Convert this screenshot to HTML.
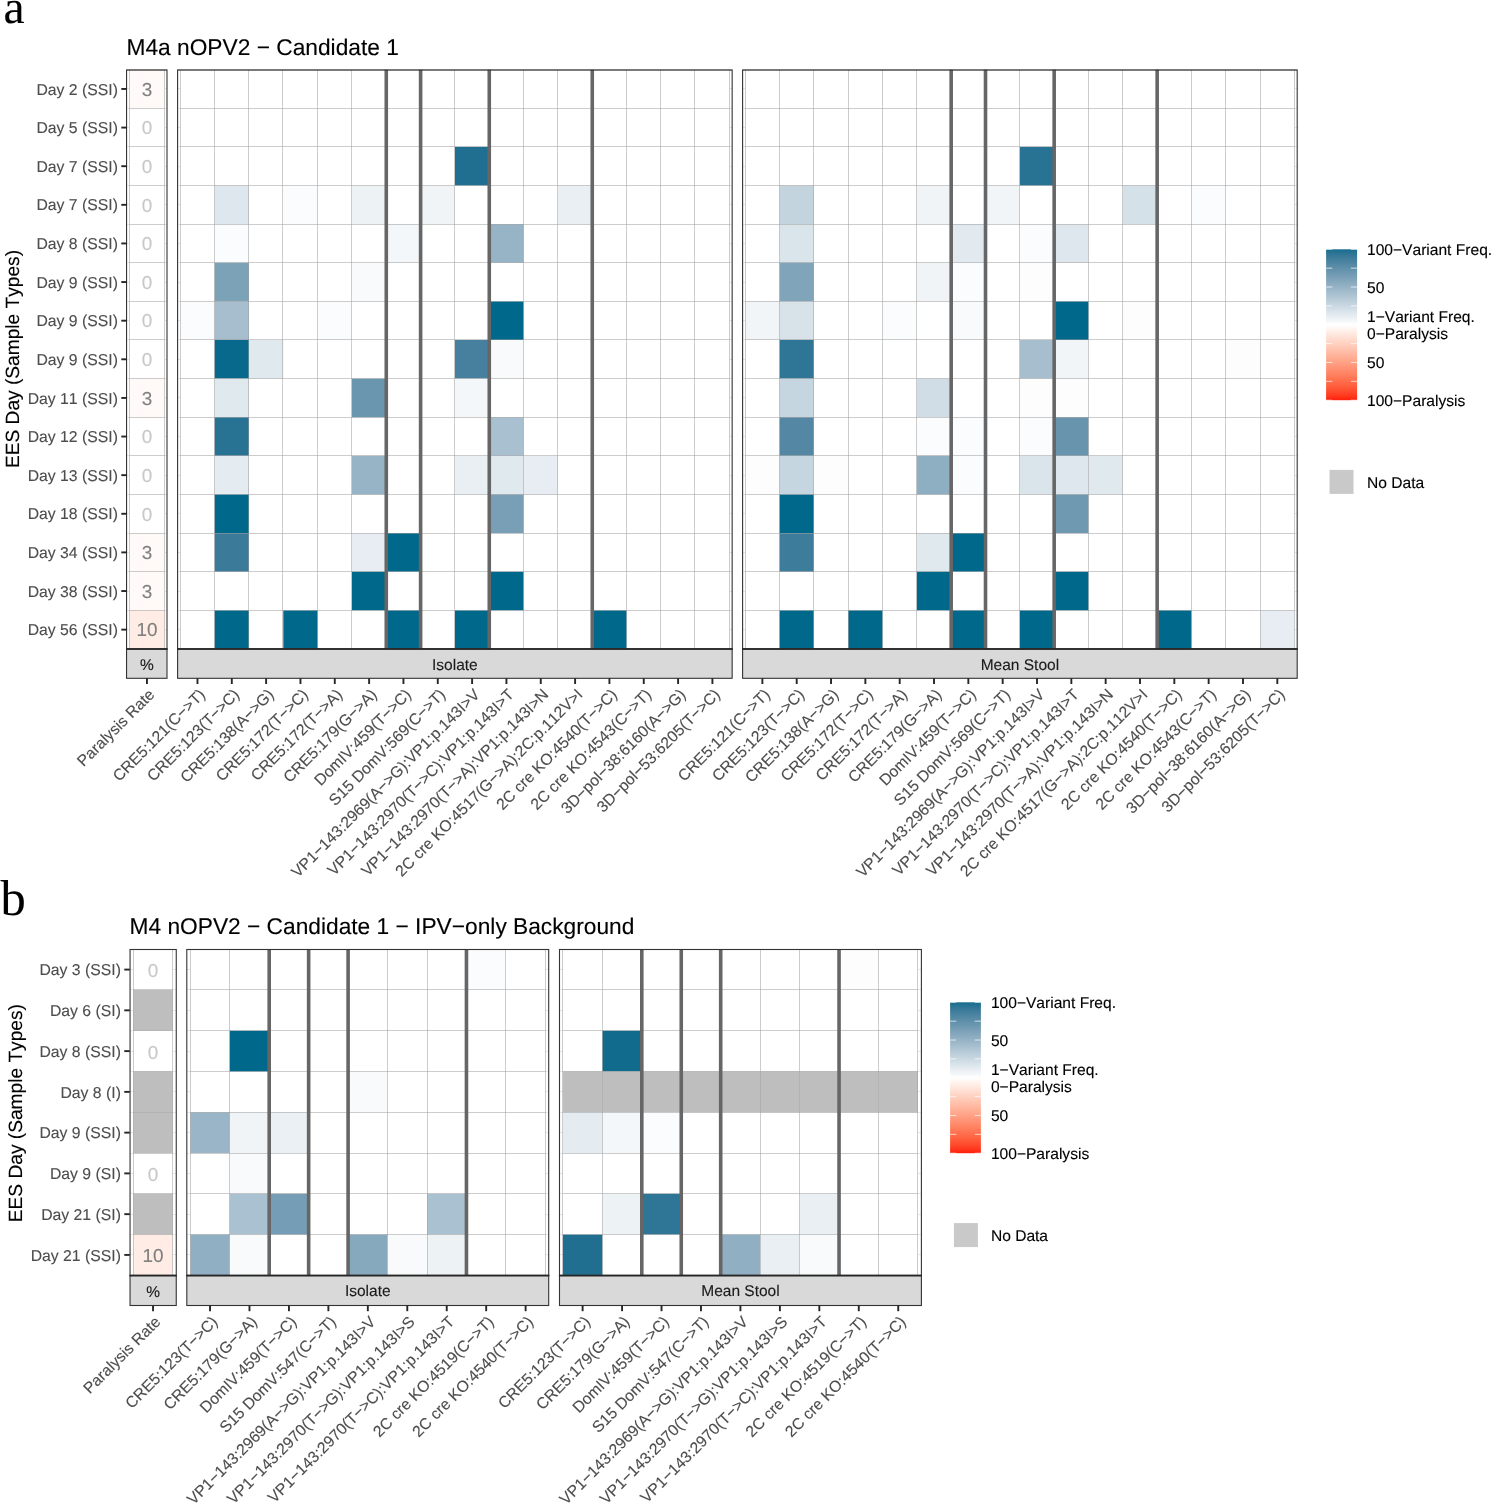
<!DOCTYPE html>
<html lang="en"><head><meta charset="utf-8"><title>nOPV2 Candidate 1 variant heatmaps</title>
<style>html,body{margin:0;padding:0;background:#fff}svg{display:block}text{font-family:'Liberation Sans', Arial, Helvetica, sans-serif;font-kerning:none}</style></head><body>
<svg width="1491" height="1503" viewBox="0 0 1491 1503" text-rendering="geometricPrecision">
<rect width="1491" height="1503" fill="#fff"/>
<text x="3.5" y="23.0" font-size="47.5" fill="#000" style="font-family:'Liberation Serif', 'Times New Roman', serif" stroke="#000" stroke-width="0.12">a</text>
<text x="126.5" y="54.6" font-size="22.74" fill="#000" stroke="#000" stroke-width="0.12">M4a nOPV2 − Candidate 1</text>
<rect x="126.55" y="70" width="40.45" height="578.95" fill="#fff"/>
<line x1="126.55" x2="167" y1="88.5" y2="88.5" stroke="#e6e6e6" stroke-width="1"/>
<line x1="126.55" x2="167" y1="127.5" y2="127.5" stroke="#e6e6e6" stroke-width="1"/>
<line x1="126.55" x2="167" y1="166.5" y2="166.5" stroke="#e6e6e6" stroke-width="1"/>
<line x1="126.55" x2="167" y1="204.5" y2="204.5" stroke="#e6e6e6" stroke-width="1"/>
<line x1="126.55" x2="167" y1="243.5" y2="243.5" stroke="#e6e6e6" stroke-width="1"/>
<line x1="126.55" x2="167" y1="282.5" y2="282.5" stroke="#e6e6e6" stroke-width="1"/>
<line x1="126.55" x2="167" y1="320.5" y2="320.5" stroke="#e6e6e6" stroke-width="1"/>
<line x1="126.55" x2="167" y1="359.5" y2="359.5" stroke="#e6e6e6" stroke-width="1"/>
<line x1="126.55" x2="167" y1="397.5" y2="397.5" stroke="#e6e6e6" stroke-width="1"/>
<line x1="126.55" x2="167" y1="436.5" y2="436.5" stroke="#e6e6e6" stroke-width="1"/>
<line x1="126.55" x2="167" y1="475.5" y2="475.5" stroke="#e6e6e6" stroke-width="1"/>
<line x1="126.55" x2="167" y1="513.5" y2="513.5" stroke="#e6e6e6" stroke-width="1"/>
<line x1="126.55" x2="167" y1="552.5" y2="552.5" stroke="#e6e6e6" stroke-width="1"/>
<line x1="126.55" x2="167" y1="591.5" y2="591.5" stroke="#e6e6e6" stroke-width="1"/>
<line x1="126.55" x2="167" y1="629.5" y2="629.5" stroke="#e6e6e6" stroke-width="1"/>
<line x1="126.55" x2="167" y1="108.5" y2="108.5" stroke="#e8e8e8" stroke-width="1"/>
<line x1="126.55" x2="167" y1="146.5" y2="146.5" stroke="#e8e8e8" stroke-width="1"/>
<line x1="126.55" x2="167" y1="185.5" y2="185.5" stroke="#e8e8e8" stroke-width="1"/>
<line x1="126.55" x2="167" y1="224.5" y2="224.5" stroke="#e8e8e8" stroke-width="1"/>
<line x1="126.55" x2="167" y1="262.5" y2="262.5" stroke="#e8e8e8" stroke-width="1"/>
<line x1="126.55" x2="167" y1="301.5" y2="301.5" stroke="#e8e8e8" stroke-width="1"/>
<line x1="126.55" x2="167" y1="339.5" y2="339.5" stroke="#e8e8e8" stroke-width="1"/>
<line x1="126.55" x2="167" y1="378.5" y2="378.5" stroke="#e8e8e8" stroke-width="1"/>
<line x1="126.55" x2="167" y1="417.5" y2="417.5" stroke="#e8e8e8" stroke-width="1"/>
<line x1="126.55" x2="167" y1="455.5" y2="455.5" stroke="#e8e8e8" stroke-width="1"/>
<line x1="126.55" x2="167" y1="494.5" y2="494.5" stroke="#e8e8e8" stroke-width="1"/>
<line x1="126.55" x2="167" y1="533.5" y2="533.5" stroke="#e8e8e8" stroke-width="1"/>
<line x1="126.55" x2="167" y1="571.5" y2="571.5" stroke="#e8e8e8" stroke-width="1"/>
<line x1="126.55" x2="167" y1="610.5" y2="610.5" stroke="#e8e8e8" stroke-width="1"/>
<rect x="129.2" y="69.65" width="35.6" height="579.3" fill="#fff"/>
<rect x="129.2" y="69.65" width="35.6" height="38.62" fill="#fff9f7"/>
<rect x="129.2" y="378.61" width="35.6" height="38.62" fill="#fff9f7"/>
<rect x="129.2" y="533.09" width="35.6" height="38.62" fill="#fff9f7"/>
<rect x="129.2" y="571.71" width="35.6" height="38.62" fill="#fff9f7"/>
<rect x="129.2" y="610.33" width="35.6" height="38.62" fill="#ffece5"/>
<path d="M129.5 69.65V648.95M164.5 69.65V648.95M129.2 108.5H164.8M129.2 146.5H164.8M129.2 185.5H164.8M129.2 224.5H164.8M129.2 262.5H164.8M129.2 301.5H164.8M129.2 339.5H164.8M129.2 378.5H164.8M129.2 417.5H164.8M129.2 455.5H164.8M129.2 494.5H164.8M129.2 533.5H164.8M129.2 571.5H164.8M129.2 610.5H164.8" fill="none" stroke="#999999" stroke-width="1" stroke-opacity="0.5"/>
<text x="147" y="95.73" font-size="18.9" fill="#808080" text-anchor="middle" stroke="#808080" stroke-width="0.12">3</text>
<text x="147" y="134.35" font-size="18.9" fill="#c8c8c8" text-anchor="middle" stroke="#c8c8c8" stroke-width="0.12">0</text>
<text x="147" y="172.97" font-size="18.9" fill="#c8c8c8" text-anchor="middle" stroke="#c8c8c8" stroke-width="0.12">0</text>
<text x="147" y="211.59" font-size="18.9" fill="#c8c8c8" text-anchor="middle" stroke="#c8c8c8" stroke-width="0.12">0</text>
<text x="147" y="250.21" font-size="18.9" fill="#c8c8c8" text-anchor="middle" stroke="#c8c8c8" stroke-width="0.12">0</text>
<text x="147" y="288.83" font-size="18.9" fill="#c8c8c8" text-anchor="middle" stroke="#c8c8c8" stroke-width="0.12">0</text>
<text x="147" y="327.45" font-size="18.9" fill="#c8c8c8" text-anchor="middle" stroke="#c8c8c8" stroke-width="0.12">0</text>
<text x="147" y="366.07" font-size="18.9" fill="#c8c8c8" text-anchor="middle" stroke="#c8c8c8" stroke-width="0.12">0</text>
<text x="147" y="404.69" font-size="18.9" fill="#808080" text-anchor="middle" stroke="#808080" stroke-width="0.12">3</text>
<text x="147" y="443.31" font-size="18.9" fill="#c8c8c8" text-anchor="middle" stroke="#c8c8c8" stroke-width="0.12">0</text>
<text x="147" y="481.93" font-size="18.9" fill="#c8c8c8" text-anchor="middle" stroke="#c8c8c8" stroke-width="0.12">0</text>
<text x="147" y="520.55" font-size="18.9" fill="#c8c8c8" text-anchor="middle" stroke="#c8c8c8" stroke-width="0.12">0</text>
<text x="147" y="559.17" font-size="18.9" fill="#808080" text-anchor="middle" stroke="#808080" stroke-width="0.12">3</text>
<text x="147" y="597.79" font-size="18.9" fill="#808080" text-anchor="middle" stroke="#808080" stroke-width="0.12">3</text>
<text x="147" y="636.41" font-size="18.9" fill="#808080" text-anchor="middle" stroke="#808080" stroke-width="0.12">10</text>
<rect x="126.55" y="648.95" width="40.45" height="29.35" fill="#d9d9d9" stroke="#333333" stroke-width="1.1"/>
<text x="146.78" y="669.57" font-size="15.5" fill="#1a1a1a" text-anchor="middle" stroke="#1a1a1a" stroke-width="0.12">%</text>
<rect x="126.55" y="70" width="40.45" height="578.95" fill="none" stroke="#333333" stroke-width="1.1"/>
<line x1="126.55" x2="167" y1="70" y2="70" stroke="#333" stroke-opacity=".45" stroke-width="1.1"/>
<line x1="126" x2="167.55" y1="648.95" y2="648.95" stroke="#262626" stroke-width="1.6"/>
<line x1="146.95" x2="146.95" y1="678.3" y2="684" stroke="#262626" stroke-width="1.9"/>
<text transform="translate(155.45 695.5) rotate(-45)" font-size="15.78" fill="#4d4d4d" text-anchor="end" stroke="#4d4d4d" stroke-width="0.12">Paralysis Rate</text>
<line x1="121.3" x2="126.8" y1="88.96" y2="88.96" stroke="#262626" stroke-width="1.9"/>
<text x="117.9" y="94.61" font-size="15.78" fill="#4d4d4d" text-anchor="end" stroke="#4d4d4d" stroke-width="0.12">Day 2 (SSI)</text>
<line x1="121.3" x2="126.8" y1="127.58" y2="127.58" stroke="#262626" stroke-width="1.9"/>
<text x="117.9" y="133.23" font-size="15.78" fill="#4d4d4d" text-anchor="end" stroke="#4d4d4d" stroke-width="0.12">Day 5 (SSI)</text>
<line x1="121.3" x2="126.8" y1="166.2" y2="166.2" stroke="#262626" stroke-width="1.9"/>
<text x="117.9" y="171.85" font-size="15.78" fill="#4d4d4d" text-anchor="end" stroke="#4d4d4d" stroke-width="0.12">Day 7 (SSI)</text>
<line x1="121.3" x2="126.8" y1="204.82" y2="204.82" stroke="#262626" stroke-width="1.9"/>
<text x="117.9" y="210.47" font-size="15.78" fill="#4d4d4d" text-anchor="end" stroke="#4d4d4d" stroke-width="0.12">Day 7 (SSI)</text>
<line x1="121.3" x2="126.8" y1="243.44" y2="243.44" stroke="#262626" stroke-width="1.9"/>
<text x="117.9" y="249.09" font-size="15.78" fill="#4d4d4d" text-anchor="end" stroke="#4d4d4d" stroke-width="0.12">Day 8 (SSI)</text>
<line x1="121.3" x2="126.8" y1="282.06" y2="282.06" stroke="#262626" stroke-width="1.9"/>
<text x="117.9" y="287.71" font-size="15.78" fill="#4d4d4d" text-anchor="end" stroke="#4d4d4d" stroke-width="0.12">Day 9 (SSI)</text>
<line x1="121.3" x2="126.8" y1="320.68" y2="320.68" stroke="#262626" stroke-width="1.9"/>
<text x="117.9" y="326.33" font-size="15.78" fill="#4d4d4d" text-anchor="end" stroke="#4d4d4d" stroke-width="0.12">Day 9 (SSI)</text>
<line x1="121.3" x2="126.8" y1="359.3" y2="359.3" stroke="#262626" stroke-width="1.9"/>
<text x="117.9" y="364.95" font-size="15.78" fill="#4d4d4d" text-anchor="end" stroke="#4d4d4d" stroke-width="0.12">Day 9 (SSI)</text>
<line x1="121.3" x2="126.8" y1="397.92" y2="397.92" stroke="#262626" stroke-width="1.9"/>
<text x="117.9" y="403.57" font-size="15.78" fill="#4d4d4d" text-anchor="end" stroke="#4d4d4d" stroke-width="0.12">Day 11 (SSI)</text>
<line x1="121.3" x2="126.8" y1="436.54" y2="436.54" stroke="#262626" stroke-width="1.9"/>
<text x="117.9" y="442.19" font-size="15.78" fill="#4d4d4d" text-anchor="end" stroke="#4d4d4d" stroke-width="0.12">Day 12 (SSI)</text>
<line x1="121.3" x2="126.8" y1="475.16" y2="475.16" stroke="#262626" stroke-width="1.9"/>
<text x="117.9" y="480.81" font-size="15.78" fill="#4d4d4d" text-anchor="end" stroke="#4d4d4d" stroke-width="0.12">Day 13 (SSI)</text>
<line x1="121.3" x2="126.8" y1="513.78" y2="513.78" stroke="#262626" stroke-width="1.9"/>
<text x="117.9" y="519.43" font-size="15.78" fill="#4d4d4d" text-anchor="end" stroke="#4d4d4d" stroke-width="0.12">Day 18 (SSI)</text>
<line x1="121.3" x2="126.8" y1="552.4" y2="552.4" stroke="#262626" stroke-width="1.9"/>
<text x="117.9" y="558.05" font-size="15.78" fill="#4d4d4d" text-anchor="end" stroke="#4d4d4d" stroke-width="0.12">Day 34 (SSI)</text>
<line x1="121.3" x2="126.8" y1="591.02" y2="591.02" stroke="#262626" stroke-width="1.9"/>
<text x="117.9" y="596.67" font-size="15.78" fill="#4d4d4d" text-anchor="end" stroke="#4d4d4d" stroke-width="0.12">Day 38 (SSI)</text>
<line x1="121.3" x2="126.8" y1="629.64" y2="629.64" stroke="#262626" stroke-width="1.9"/>
<text x="117.9" y="635.29" font-size="15.78" fill="#4d4d4d" text-anchor="end" stroke="#4d4d4d" stroke-width="0.12">Day 56 (SSI)</text>
<rect x="177.6" y="70" width="554.55" height="578.95" fill="#fff"/>
<line x1="177.6" x2="732.15" y1="88.5" y2="88.5" stroke="#e6e6e6" stroke-width="1"/>
<line x1="177.6" x2="732.15" y1="127.5" y2="127.5" stroke="#e6e6e6" stroke-width="1"/>
<line x1="177.6" x2="732.15" y1="166.5" y2="166.5" stroke="#e6e6e6" stroke-width="1"/>
<line x1="177.6" x2="732.15" y1="204.5" y2="204.5" stroke="#e6e6e6" stroke-width="1"/>
<line x1="177.6" x2="732.15" y1="243.5" y2="243.5" stroke="#e6e6e6" stroke-width="1"/>
<line x1="177.6" x2="732.15" y1="282.5" y2="282.5" stroke="#e6e6e6" stroke-width="1"/>
<line x1="177.6" x2="732.15" y1="320.5" y2="320.5" stroke="#e6e6e6" stroke-width="1"/>
<line x1="177.6" x2="732.15" y1="359.5" y2="359.5" stroke="#e6e6e6" stroke-width="1"/>
<line x1="177.6" x2="732.15" y1="397.5" y2="397.5" stroke="#e6e6e6" stroke-width="1"/>
<line x1="177.6" x2="732.15" y1="436.5" y2="436.5" stroke="#e6e6e6" stroke-width="1"/>
<line x1="177.6" x2="732.15" y1="475.5" y2="475.5" stroke="#e6e6e6" stroke-width="1"/>
<line x1="177.6" x2="732.15" y1="513.5" y2="513.5" stroke="#e6e6e6" stroke-width="1"/>
<line x1="177.6" x2="732.15" y1="552.5" y2="552.5" stroke="#e6e6e6" stroke-width="1"/>
<line x1="177.6" x2="732.15" y1="591.5" y2="591.5" stroke="#e6e6e6" stroke-width="1"/>
<line x1="177.6" x2="732.15" y1="629.5" y2="629.5" stroke="#e6e6e6" stroke-width="1"/>
<line x1="177.6" x2="732.15" y1="108.5" y2="108.5" stroke="#e8e8e8" stroke-width="1"/>
<line x1="177.6" x2="732.15" y1="146.5" y2="146.5" stroke="#e8e8e8" stroke-width="1"/>
<line x1="177.6" x2="732.15" y1="185.5" y2="185.5" stroke="#e8e8e8" stroke-width="1"/>
<line x1="177.6" x2="732.15" y1="224.5" y2="224.5" stroke="#e8e8e8" stroke-width="1"/>
<line x1="177.6" x2="732.15" y1="262.5" y2="262.5" stroke="#e8e8e8" stroke-width="1"/>
<line x1="177.6" x2="732.15" y1="301.5" y2="301.5" stroke="#e8e8e8" stroke-width="1"/>
<line x1="177.6" x2="732.15" y1="339.5" y2="339.5" stroke="#e8e8e8" stroke-width="1"/>
<line x1="177.6" x2="732.15" y1="378.5" y2="378.5" stroke="#e8e8e8" stroke-width="1"/>
<line x1="177.6" x2="732.15" y1="417.5" y2="417.5" stroke="#e8e8e8" stroke-width="1"/>
<line x1="177.6" x2="732.15" y1="455.5" y2="455.5" stroke="#e8e8e8" stroke-width="1"/>
<line x1="177.6" x2="732.15" y1="494.5" y2="494.5" stroke="#e8e8e8" stroke-width="1"/>
<line x1="177.6" x2="732.15" y1="533.5" y2="533.5" stroke="#e8e8e8" stroke-width="1"/>
<line x1="177.6" x2="732.15" y1="571.5" y2="571.5" stroke="#e8e8e8" stroke-width="1"/>
<line x1="177.6" x2="732.15" y1="610.5" y2="610.5" stroke="#e8e8e8" stroke-width="1"/>
<rect x="180.3" y="69.65" width="549.28" height="579.3" fill="#fff"/>
<rect x="454.94" y="146.89" width="34.33" height="38.62" fill="#206f91"/>
<rect x="214.63" y="185.51" width="34.33" height="38.62" fill="#dee7ed"/>
<rect x="283.29" y="185.51" width="34.33" height="38.62" fill="#fbfcfd"/>
<rect x="351.95" y="185.51" width="34.33" height="38.62" fill="#edf2f5"/>
<rect x="420.61" y="185.51" width="34.33" height="38.62" fill="#f0f4f7"/>
<rect x="557.93" y="185.51" width="34.33" height="38.62" fill="#e9eff3"/>
<rect x="214.63" y="224.13" width="34.33" height="38.62" fill="#fbfcfd"/>
<rect x="386.28" y="224.13" width="34.33" height="38.62" fill="#f4f7f9"/>
<rect x="489.27" y="224.13" width="34.33" height="38.62" fill="#96b4c6"/>
<rect x="214.63" y="262.75" width="34.33" height="38.62" fill="#7ca2b8"/>
<rect x="351.95" y="262.75" width="34.33" height="38.62" fill="#f8fafb"/>
<rect x="180.3" y="301.37" width="34.33" height="38.62" fill="#fbfcfd"/>
<rect x="214.63" y="301.37" width="34.33" height="38.62" fill="#a6bece"/>
<rect x="317.62" y="301.37" width="34.33" height="38.62" fill="#fbfcfd"/>
<rect x="489.27" y="301.37" width="34.33" height="38.62" fill="#00688b"/>
<rect x="214.63" y="339.99" width="34.33" height="38.62" fill="#09698c"/>
<rect x="248.96" y="339.99" width="34.33" height="38.62" fill="#e0e9ee"/>
<rect x="454.94" y="339.99" width="34.33" height="38.62" fill="#46809e"/>
<rect x="489.27" y="339.99" width="34.33" height="38.62" fill="#f8fafb"/>
<rect x="214.63" y="378.61" width="34.33" height="38.62" fill="#e0e9ee"/>
<rect x="351.95" y="378.61" width="34.33" height="38.62" fill="#6a96af"/>
<rect x="454.94" y="378.61" width="34.33" height="38.62" fill="#f4f7f9"/>
<rect x="214.63" y="417.23" width="34.33" height="38.62" fill="#287293"/>
<rect x="489.27" y="417.23" width="34.33" height="38.62" fill="#a8c0cf"/>
<rect x="214.63" y="455.85" width="34.33" height="38.62" fill="#e5ecf1"/>
<rect x="351.95" y="455.85" width="34.33" height="38.62" fill="#96b4c6"/>
<rect x="454.94" y="455.85" width="34.33" height="38.62" fill="#e9eff3"/>
<rect x="489.27" y="455.85" width="34.33" height="38.62" fill="#e0e9ee"/>
<rect x="523.6" y="455.85" width="34.33" height="38.62" fill="#e7edf2"/>
<rect x="214.63" y="494.47" width="34.33" height="38.62" fill="#00688b"/>
<rect x="489.27" y="494.47" width="34.33" height="38.62" fill="#789fb6"/>
<rect x="214.63" y="533.09" width="34.33" height="38.62" fill="#3b7a99"/>
<rect x="351.95" y="533.09" width="34.33" height="38.62" fill="#e7edf2"/>
<rect x="386.28" y="533.09" width="34.33" height="38.62" fill="#00688b"/>
<rect x="351.95" y="571.71" width="34.33" height="38.62" fill="#00688b"/>
<rect x="489.27" y="571.71" width="34.33" height="38.62" fill="#00688b"/>
<rect x="214.63" y="610.33" width="34.33" height="38.62" fill="#00688b"/>
<rect x="283.29" y="610.33" width="34.33" height="38.62" fill="#00688b"/>
<rect x="386.28" y="610.33" width="34.33" height="38.62" fill="#00688b"/>
<rect x="454.94" y="610.33" width="34.33" height="38.62" fill="#00688b"/>
<rect x="592.26" y="610.33" width="34.33" height="38.62" fill="#00688b"/>
<path d="M180.5 69.65V648.95M214.5 69.65V648.95M248.5 69.65V648.95M282.5 69.65V648.95M317.5 69.65V648.95M351.5 69.65V648.95M385.5 69.65V648.95M420.5 69.65V648.95M454.5 69.65V648.95M488.5 69.65V648.95M523.5 69.65V648.95M557.5 69.65V648.95M591.5 69.65V648.95M626.5 69.65V648.95M660.5 69.65V648.95M694.5 69.65V648.95M729.5 69.65V648.95M180.3 108.5H729.58M180.3 146.5H729.58M180.3 185.5H729.58M180.3 224.5H729.58M180.3 262.5H729.58M180.3 301.5H729.58M180.3 339.5H729.58M180.3 378.5H729.58M180.3 417.5H729.58M180.3 455.5H729.58M180.3 494.5H729.58M180.3 533.5H729.58M180.3 571.5H729.58M180.3 610.5H729.58" fill="none" stroke="#999999" stroke-width="1" stroke-opacity="0.5"/>
<line x1="386.28" x2="386.28" y1="69.65" y2="648.95" stroke="#666666" stroke-width="3.6"/>
<line x1="420.61" x2="420.61" y1="69.65" y2="648.95" stroke="#666666" stroke-width="3.6"/>
<line x1="489.27" x2="489.27" y1="69.65" y2="648.95" stroke="#666666" stroke-width="3.6"/>
<line x1="592.26" x2="592.26" y1="69.65" y2="648.95" stroke="#666666" stroke-width="3.6"/>
<rect x="177.6" y="648.95" width="554.55" height="29.35" fill="#d9d9d9" stroke="#333333" stroke-width="1.1"/>
<text x="454.88" y="669.57" font-size="15.5" fill="#1a1a1a" text-anchor="middle" stroke="#1a1a1a" stroke-width="0.12">Isolate</text>
<rect x="177.6" y="70" width="554.55" height="578.95" fill="none" stroke="#333333" stroke-width="1.1"/>
<line x1="177.6" x2="732.15" y1="70" y2="70" stroke="#333" stroke-opacity=".45" stroke-width="1.1"/>
<line x1="177.05" x2="732.7" y1="648.95" y2="648.95" stroke="#262626" stroke-width="1.6"/>
<line x1="197.47" x2="197.47" y1="678.3" y2="684" stroke="#262626" stroke-width="1.9"/>
<text transform="translate(205.97 695.5) rotate(-45)" font-size="15.78" fill="#4d4d4d" text-anchor="end" stroke="#4d4d4d" stroke-width="0.12">CRE5:121(C−&gt;T)</text>
<line x1="231.8" x2="231.8" y1="678.3" y2="684" stroke="#262626" stroke-width="1.9"/>
<text transform="translate(240.3 695.5) rotate(-45)" font-size="15.78" fill="#4d4d4d" text-anchor="end" stroke="#4d4d4d" stroke-width="0.12">CRE5:123(T−&gt;C)</text>
<line x1="266.12" x2="266.12" y1="678.3" y2="684" stroke="#262626" stroke-width="1.9"/>
<text transform="translate(274.62 695.5) rotate(-45)" font-size="15.78" fill="#4d4d4d" text-anchor="end" stroke="#4d4d4d" stroke-width="0.12">CRE5:138(A−&gt;G)</text>
<line x1="300.46" x2="300.46" y1="678.3" y2="684" stroke="#262626" stroke-width="1.9"/>
<text transform="translate(308.96 695.5) rotate(-45)" font-size="15.78" fill="#4d4d4d" text-anchor="end" stroke="#4d4d4d" stroke-width="0.12">CRE5:172(T−&gt;C)</text>
<line x1="334.78" x2="334.78" y1="678.3" y2="684" stroke="#262626" stroke-width="1.9"/>
<text transform="translate(343.28 695.5) rotate(-45)" font-size="15.78" fill="#4d4d4d" text-anchor="end" stroke="#4d4d4d" stroke-width="0.12">CRE5:172(T−&gt;A)</text>
<line x1="369.12" x2="369.12" y1="678.3" y2="684" stroke="#262626" stroke-width="1.9"/>
<text transform="translate(377.62 695.5) rotate(-45)" font-size="15.78" fill="#4d4d4d" text-anchor="end" stroke="#4d4d4d" stroke-width="0.12">CRE5:179(G−&gt;A)</text>
<line x1="403.44" x2="403.44" y1="678.3" y2="684" stroke="#262626" stroke-width="1.9"/>
<text transform="translate(411.94 695.5) rotate(-45)" font-size="15.78" fill="#4d4d4d" text-anchor="end" stroke="#4d4d4d" stroke-width="0.12">DomIV:459(T−&gt;C)</text>
<line x1="437.77" x2="437.77" y1="678.3" y2="684" stroke="#262626" stroke-width="1.9"/>
<text transform="translate(446.27 695.5) rotate(-45)" font-size="15.78" fill="#4d4d4d" text-anchor="end" stroke="#4d4d4d" stroke-width="0.12">S15 DomV:569(C−&gt;T)</text>
<line x1="472.11" x2="472.11" y1="678.3" y2="684" stroke="#262626" stroke-width="1.9"/>
<text transform="translate(480.61 695.5) rotate(-45)" font-size="15.78" fill="#4d4d4d" text-anchor="end" stroke="#4d4d4d" stroke-width="0.12">VP1−143:2969(A−&gt;G):VP1:p.143I&gt;V</text>
<line x1="506.44" x2="506.44" y1="678.3" y2="684" stroke="#262626" stroke-width="1.9"/>
<text transform="translate(514.93 695.5) rotate(-45)" font-size="15.78" fill="#4d4d4d" text-anchor="end" stroke="#4d4d4d" stroke-width="0.12">VP1−143:2970(T−&gt;C):VP1:p.143I&gt;T</text>
<line x1="540.76" x2="540.76" y1="678.3" y2="684" stroke="#262626" stroke-width="1.9"/>
<text transform="translate(549.26 695.5) rotate(-45)" font-size="15.78" fill="#4d4d4d" text-anchor="end" stroke="#4d4d4d" stroke-width="0.12">VP1−143:2970(T−&gt;A):VP1:p.143I&gt;N</text>
<line x1="575.1" x2="575.1" y1="678.3" y2="684" stroke="#262626" stroke-width="1.9"/>
<text transform="translate(583.6 695.5) rotate(-45)" font-size="15.78" fill="#4d4d4d" text-anchor="end" stroke="#4d4d4d" stroke-width="0.12">2C cre KO:4517(G−&gt;A):2C:p.112V&gt;I</text>
<line x1="609.42" x2="609.42" y1="678.3" y2="684" stroke="#262626" stroke-width="1.9"/>
<text transform="translate(617.92 695.5) rotate(-45)" font-size="15.78" fill="#4d4d4d" text-anchor="end" stroke="#4d4d4d" stroke-width="0.12">2C cre KO:4540(T−&gt;C)</text>
<line x1="643.75" x2="643.75" y1="678.3" y2="684" stroke="#262626" stroke-width="1.9"/>
<text transform="translate(652.25 695.5) rotate(-45)" font-size="15.78" fill="#4d4d4d" text-anchor="end" stroke="#4d4d4d" stroke-width="0.12">2C cre KO:4543(C−&gt;T)</text>
<line x1="678.09" x2="678.09" y1="678.3" y2="684" stroke="#262626" stroke-width="1.9"/>
<text transform="translate(686.59 695.5) rotate(-45)" font-size="15.78" fill="#4d4d4d" text-anchor="end" stroke="#4d4d4d" stroke-width="0.12">3D−pol−38:6160(A−&gt;G)</text>
<line x1="712.41" x2="712.41" y1="678.3" y2="684" stroke="#262626" stroke-width="1.9"/>
<text transform="translate(720.91 695.5) rotate(-45)" font-size="15.78" fill="#4d4d4d" text-anchor="end" stroke="#4d4d4d" stroke-width="0.12">3D−pol−53:6205(T−&gt;C)</text>
<rect x="742.6" y="70" width="554.6" height="578.95" fill="#fff"/>
<line x1="742.6" x2="1297.2" y1="88.5" y2="88.5" stroke="#e6e6e6" stroke-width="1"/>
<line x1="742.6" x2="1297.2" y1="127.5" y2="127.5" stroke="#e6e6e6" stroke-width="1"/>
<line x1="742.6" x2="1297.2" y1="166.5" y2="166.5" stroke="#e6e6e6" stroke-width="1"/>
<line x1="742.6" x2="1297.2" y1="204.5" y2="204.5" stroke="#e6e6e6" stroke-width="1"/>
<line x1="742.6" x2="1297.2" y1="243.5" y2="243.5" stroke="#e6e6e6" stroke-width="1"/>
<line x1="742.6" x2="1297.2" y1="282.5" y2="282.5" stroke="#e6e6e6" stroke-width="1"/>
<line x1="742.6" x2="1297.2" y1="320.5" y2="320.5" stroke="#e6e6e6" stroke-width="1"/>
<line x1="742.6" x2="1297.2" y1="359.5" y2="359.5" stroke="#e6e6e6" stroke-width="1"/>
<line x1="742.6" x2="1297.2" y1="397.5" y2="397.5" stroke="#e6e6e6" stroke-width="1"/>
<line x1="742.6" x2="1297.2" y1="436.5" y2="436.5" stroke="#e6e6e6" stroke-width="1"/>
<line x1="742.6" x2="1297.2" y1="475.5" y2="475.5" stroke="#e6e6e6" stroke-width="1"/>
<line x1="742.6" x2="1297.2" y1="513.5" y2="513.5" stroke="#e6e6e6" stroke-width="1"/>
<line x1="742.6" x2="1297.2" y1="552.5" y2="552.5" stroke="#e6e6e6" stroke-width="1"/>
<line x1="742.6" x2="1297.2" y1="591.5" y2="591.5" stroke="#e6e6e6" stroke-width="1"/>
<line x1="742.6" x2="1297.2" y1="629.5" y2="629.5" stroke="#e6e6e6" stroke-width="1"/>
<line x1="742.6" x2="1297.2" y1="108.5" y2="108.5" stroke="#e8e8e8" stroke-width="1"/>
<line x1="742.6" x2="1297.2" y1="146.5" y2="146.5" stroke="#e8e8e8" stroke-width="1"/>
<line x1="742.6" x2="1297.2" y1="185.5" y2="185.5" stroke="#e8e8e8" stroke-width="1"/>
<line x1="742.6" x2="1297.2" y1="224.5" y2="224.5" stroke="#e8e8e8" stroke-width="1"/>
<line x1="742.6" x2="1297.2" y1="262.5" y2="262.5" stroke="#e8e8e8" stroke-width="1"/>
<line x1="742.6" x2="1297.2" y1="301.5" y2="301.5" stroke="#e8e8e8" stroke-width="1"/>
<line x1="742.6" x2="1297.2" y1="339.5" y2="339.5" stroke="#e8e8e8" stroke-width="1"/>
<line x1="742.6" x2="1297.2" y1="378.5" y2="378.5" stroke="#e8e8e8" stroke-width="1"/>
<line x1="742.6" x2="1297.2" y1="417.5" y2="417.5" stroke="#e8e8e8" stroke-width="1"/>
<line x1="742.6" x2="1297.2" y1="455.5" y2="455.5" stroke="#e8e8e8" stroke-width="1"/>
<line x1="742.6" x2="1297.2" y1="494.5" y2="494.5" stroke="#e8e8e8" stroke-width="1"/>
<line x1="742.6" x2="1297.2" y1="533.5" y2="533.5" stroke="#e8e8e8" stroke-width="1"/>
<line x1="742.6" x2="1297.2" y1="571.5" y2="571.5" stroke="#e8e8e8" stroke-width="1"/>
<line x1="742.6" x2="1297.2" y1="610.5" y2="610.5" stroke="#e8e8e8" stroke-width="1"/>
<rect x="745.2" y="69.65" width="549.28" height="579.3" fill="#fff"/>
<rect x="1019.84" y="146.89" width="34.33" height="38.62" fill="#287293"/>
<rect x="779.53" y="185.51" width="34.33" height="38.62" fill="#c4d4df"/>
<rect x="916.85" y="185.51" width="34.33" height="38.62" fill="#f0f4f7"/>
<rect x="985.51" y="185.51" width="34.33" height="38.62" fill="#f2f5f8"/>
<rect x="1122.83" y="185.51" width="34.33" height="38.62" fill="#d5e1e8"/>
<rect x="1191.49" y="185.51" width="34.33" height="38.62" fill="#fbfcfd"/>
<rect x="779.53" y="224.13" width="34.33" height="38.62" fill="#dae4eb"/>
<rect x="951.18" y="224.13" width="34.33" height="38.62" fill="#e2eaef"/>
<rect x="1019.84" y="224.13" width="34.33" height="38.62" fill="#fbfcfd"/>
<rect x="1054.17" y="224.13" width="34.33" height="38.62" fill="#dee7ed"/>
<rect x="779.53" y="262.75" width="34.33" height="38.62" fill="#80a4ba"/>
<rect x="916.85" y="262.75" width="34.33" height="38.62" fill="#f0f4f7"/>
<rect x="951.18" y="262.75" width="34.33" height="38.62" fill="#fbfcfd"/>
<rect x="1019.84" y="262.75" width="34.33" height="38.62" fill="#fdfdfe"/>
<rect x="745.2" y="301.37" width="34.33" height="38.62" fill="#f2f5f8"/>
<rect x="779.53" y="301.37" width="34.33" height="38.62" fill="#d8e2e9"/>
<rect x="882.52" y="301.37" width="34.33" height="38.62" fill="#fbfcfd"/>
<rect x="951.18" y="301.37" width="34.33" height="38.62" fill="#f8fafb"/>
<rect x="1054.17" y="301.37" width="34.33" height="38.62" fill="#00688b"/>
<rect x="1122.83" y="301.37" width="34.33" height="38.62" fill="#fdfdfe"/>
<rect x="779.53" y="339.99" width="34.33" height="38.62" fill="#2f7595"/>
<rect x="1019.84" y="339.99" width="34.33" height="38.62" fill="#a6bece"/>
<rect x="1054.17" y="339.99" width="34.33" height="38.62" fill="#f2f5f8"/>
<rect x="1225.82" y="339.99" width="34.33" height="38.62" fill="#fdfdfe"/>
<rect x="779.53" y="378.61" width="34.33" height="38.62" fill="#c6d6e0"/>
<rect x="916.85" y="378.61" width="34.33" height="38.62" fill="#d1dde6"/>
<rect x="1019.84" y="378.61" width="34.33" height="38.62" fill="#fdfdfe"/>
<rect x="1054.17" y="378.61" width="34.33" height="38.62" fill="#fdfdfe"/>
<rect x="779.53" y="417.23" width="34.33" height="38.62" fill="#5387a4"/>
<rect x="916.85" y="417.23" width="34.33" height="38.62" fill="#fbfcfd"/>
<rect x="951.18" y="417.23" width="34.33" height="38.62" fill="#fbfcfd"/>
<rect x="1019.84" y="417.23" width="34.33" height="38.62" fill="#fbfcfd"/>
<rect x="1054.17" y="417.23" width="34.33" height="38.62" fill="#6894ae"/>
<rect x="745.2" y="455.85" width="34.33" height="38.62" fill="#fdfdfe"/>
<rect x="779.53" y="455.85" width="34.33" height="38.62" fill="#c6d6e0"/>
<rect x="813.86" y="455.85" width="34.33" height="38.62" fill="#fdfdfe"/>
<rect x="916.85" y="455.85" width="34.33" height="38.62" fill="#8eaec1"/>
<rect x="951.18" y="455.85" width="34.33" height="38.62" fill="#fbfcfd"/>
<rect x="1019.84" y="455.85" width="34.33" height="38.62" fill="#dae4eb"/>
<rect x="1054.17" y="455.85" width="34.33" height="38.62" fill="#dee7ed"/>
<rect x="1088.5" y="455.85" width="34.33" height="38.62" fill="#e0e9ee"/>
<rect x="779.53" y="494.47" width="34.33" height="38.62" fill="#00688b"/>
<rect x="1054.17" y="494.47" width="34.33" height="38.62" fill="#6f99b1"/>
<rect x="779.53" y="533.09" width="34.33" height="38.62" fill="#3e7c9b"/>
<rect x="916.85" y="533.09" width="34.33" height="38.62" fill="#e0e9ee"/>
<rect x="951.18" y="533.09" width="34.33" height="38.62" fill="#00688b"/>
<rect x="916.85" y="571.71" width="34.33" height="38.62" fill="#00688b"/>
<rect x="1054.17" y="571.71" width="34.33" height="38.62" fill="#00688b"/>
<rect x="779.53" y="610.33" width="34.33" height="38.62" fill="#00688b"/>
<rect x="848.19" y="610.33" width="34.33" height="38.62" fill="#00688b"/>
<rect x="951.18" y="610.33" width="34.33" height="38.62" fill="#00688b"/>
<rect x="1019.84" y="610.33" width="34.33" height="38.62" fill="#00688b"/>
<rect x="1157.16" y="610.33" width="34.33" height="38.62" fill="#00688b"/>
<rect x="1260.15" y="610.33" width="34.33" height="38.62" fill="#e7edf2"/>
<path d="M745.5 69.65V648.95M779.5 69.65V648.95M813.5 69.65V648.95M848.5 69.65V648.95M882.5 69.65V648.95M916.5 69.65V648.95M951.5 69.65V648.95M985.5 69.65V648.95M1019.5 69.65V648.95M1054.5 69.65V648.95M1088.5 69.65V648.95M1122.5 69.65V648.95M1157.5 69.65V648.95M1191.5 69.65V648.95M1225.5 69.65V648.95M1260.5 69.65V648.95M1294.5 69.65V648.95M745.2 108.5H1294.48M745.2 146.5H1294.48M745.2 185.5H1294.48M745.2 224.5H1294.48M745.2 262.5H1294.48M745.2 301.5H1294.48M745.2 339.5H1294.48M745.2 378.5H1294.48M745.2 417.5H1294.48M745.2 455.5H1294.48M745.2 494.5H1294.48M745.2 533.5H1294.48M745.2 571.5H1294.48M745.2 610.5H1294.48" fill="none" stroke="#999999" stroke-width="1" stroke-opacity="0.5"/>
<line x1="951.18" x2="951.18" y1="69.65" y2="648.95" stroke="#666666" stroke-width="3.6"/>
<line x1="985.51" x2="985.51" y1="69.65" y2="648.95" stroke="#666666" stroke-width="3.6"/>
<line x1="1054.17" x2="1054.17" y1="69.65" y2="648.95" stroke="#666666" stroke-width="3.6"/>
<line x1="1157.16" x2="1157.16" y1="69.65" y2="648.95" stroke="#666666" stroke-width="3.6"/>
<rect x="742.6" y="648.95" width="554.6" height="29.35" fill="#d9d9d9" stroke="#333333" stroke-width="1.1"/>
<text x="1019.9" y="669.57" font-size="15.5" fill="#1a1a1a" text-anchor="middle" stroke="#1a1a1a" stroke-width="0.12">Mean Stool</text>
<rect x="742.6" y="70" width="554.6" height="578.95" fill="none" stroke="#333333" stroke-width="1.1"/>
<line x1="742.6" x2="1297.2" y1="70" y2="70" stroke="#333" stroke-opacity=".45" stroke-width="1.1"/>
<line x1="742.05" x2="1297.75" y1="648.95" y2="648.95" stroke="#262626" stroke-width="1.6"/>
<line x1="762.37" x2="762.37" y1="678.3" y2="684" stroke="#262626" stroke-width="1.9"/>
<text transform="translate(770.87 695.5) rotate(-45)" font-size="15.78" fill="#4d4d4d" text-anchor="end" stroke="#4d4d4d" stroke-width="0.12">CRE5:121(C−&gt;T)</text>
<line x1="796.7" x2="796.7" y1="678.3" y2="684" stroke="#262626" stroke-width="1.9"/>
<text transform="translate(805.2 695.5) rotate(-45)" font-size="15.78" fill="#4d4d4d" text-anchor="end" stroke="#4d4d4d" stroke-width="0.12">CRE5:123(T−&gt;C)</text>
<line x1="831.03" x2="831.03" y1="678.3" y2="684" stroke="#262626" stroke-width="1.9"/>
<text transform="translate(839.53 695.5) rotate(-45)" font-size="15.78" fill="#4d4d4d" text-anchor="end" stroke="#4d4d4d" stroke-width="0.12">CRE5:138(A−&gt;G)</text>
<line x1="865.36" x2="865.36" y1="678.3" y2="684" stroke="#262626" stroke-width="1.9"/>
<text transform="translate(873.86 695.5) rotate(-45)" font-size="15.78" fill="#4d4d4d" text-anchor="end" stroke="#4d4d4d" stroke-width="0.12">CRE5:172(T−&gt;C)</text>
<line x1="899.69" x2="899.69" y1="678.3" y2="684" stroke="#262626" stroke-width="1.9"/>
<text transform="translate(908.19 695.5) rotate(-45)" font-size="15.78" fill="#4d4d4d" text-anchor="end" stroke="#4d4d4d" stroke-width="0.12">CRE5:172(T−&gt;A)</text>
<line x1="934.02" x2="934.02" y1="678.3" y2="684" stroke="#262626" stroke-width="1.9"/>
<text transform="translate(942.52 695.5) rotate(-45)" font-size="15.78" fill="#4d4d4d" text-anchor="end" stroke="#4d4d4d" stroke-width="0.12">CRE5:179(G−&gt;A)</text>
<line x1="968.35" x2="968.35" y1="678.3" y2="684" stroke="#262626" stroke-width="1.9"/>
<text transform="translate(976.85 695.5) rotate(-45)" font-size="15.78" fill="#4d4d4d" text-anchor="end" stroke="#4d4d4d" stroke-width="0.12">DomIV:459(T−&gt;C)</text>
<line x1="1002.67" x2="1002.67" y1="678.3" y2="684" stroke="#262626" stroke-width="1.9"/>
<text transform="translate(1011.17 695.5) rotate(-45)" font-size="15.78" fill="#4d4d4d" text-anchor="end" stroke="#4d4d4d" stroke-width="0.12">S15 DomV:569(C−&gt;T)</text>
<line x1="1037.01" x2="1037.01" y1="678.3" y2="684" stroke="#262626" stroke-width="1.9"/>
<text transform="translate(1045.51 695.5) rotate(-45)" font-size="15.78" fill="#4d4d4d" text-anchor="end" stroke="#4d4d4d" stroke-width="0.12">VP1−143:2969(A−&gt;G):VP1:p.143I&gt;V</text>
<line x1="1071.34" x2="1071.34" y1="678.3" y2="684" stroke="#262626" stroke-width="1.9"/>
<text transform="translate(1079.84 695.5) rotate(-45)" font-size="15.78" fill="#4d4d4d" text-anchor="end" stroke="#4d4d4d" stroke-width="0.12">VP1−143:2970(T−&gt;C):VP1:p.143I&gt;T</text>
<line x1="1105.66" x2="1105.66" y1="678.3" y2="684" stroke="#262626" stroke-width="1.9"/>
<text transform="translate(1114.16 695.5) rotate(-45)" font-size="15.78" fill="#4d4d4d" text-anchor="end" stroke="#4d4d4d" stroke-width="0.12">VP1−143:2970(T−&gt;A):VP1:p.143I&gt;N</text>
<line x1="1139.99" x2="1139.99" y1="678.3" y2="684" stroke="#262626" stroke-width="1.9"/>
<text transform="translate(1148.49 695.5) rotate(-45)" font-size="15.78" fill="#4d4d4d" text-anchor="end" stroke="#4d4d4d" stroke-width="0.12">2C cre KO:4517(G−&gt;A):2C:p.112V&gt;I</text>
<line x1="1174.33" x2="1174.33" y1="678.3" y2="684" stroke="#262626" stroke-width="1.9"/>
<text transform="translate(1182.83 695.5) rotate(-45)" font-size="15.78" fill="#4d4d4d" text-anchor="end" stroke="#4d4d4d" stroke-width="0.12">2C cre KO:4540(T−&gt;C)</text>
<line x1="1208.65" x2="1208.65" y1="678.3" y2="684" stroke="#262626" stroke-width="1.9"/>
<text transform="translate(1217.15 695.5) rotate(-45)" font-size="15.78" fill="#4d4d4d" text-anchor="end" stroke="#4d4d4d" stroke-width="0.12">2C cre KO:4543(C−&gt;T)</text>
<line x1="1242.99" x2="1242.99" y1="678.3" y2="684" stroke="#262626" stroke-width="1.9"/>
<text transform="translate(1251.49 695.5) rotate(-45)" font-size="15.78" fill="#4d4d4d" text-anchor="end" stroke="#4d4d4d" stroke-width="0.12">3D−pol−38:6160(A−&gt;G)</text>
<line x1="1277.32" x2="1277.32" y1="678.3" y2="684" stroke="#262626" stroke-width="1.9"/>
<text transform="translate(1285.82 695.5) rotate(-45)" font-size="15.78" fill="#4d4d4d" text-anchor="end" stroke="#4d4d4d" stroke-width="0.12">3D−pol−53:6205(T−&gt;C)</text>
<text transform="translate(18.65 359) rotate(-90)" font-size="19.15" fill="#000" text-anchor="middle" stroke="#000" stroke-width="0.12">EES Day (Sample Types)</text>
<defs><linearGradient id="ga" x1="0" y1="0" x2="0" y2="1">
<stop offset="0%" stop-color="#176c8e"/>
<stop offset="2.5%" stop-color="#2b7394"/>
<stop offset="5%" stop-color="#3a7a99"/>
<stop offset="7.5%" stop-color="#47819f"/>
<stop offset="10%" stop-color="#5488a4"/>
<stop offset="12.5%" stop-color="#5f8faa"/>
<stop offset="15%" stop-color="#6a96af"/>
<stop offset="17.5%" stop-color="#759db5"/>
<stop offset="20%" stop-color="#80a4ba"/>
<stop offset="22.5%" stop-color="#8babc0"/>
<stop offset="25%" stop-color="#95b3c5"/>
<stop offset="27.5%" stop-color="#a0bacb"/>
<stop offset="30%" stop-color="#aac2d1"/>
<stop offset="32.5%" stop-color="#b5c9d6"/>
<stop offset="35%" stop-color="#bfd1dc"/>
<stop offset="37.5%" stop-color="#cad8e2"/>
<stop offset="40%" stop-color="#d4e0e8"/>
<stop offset="42.5%" stop-color="#dfe8ee"/>
<stop offset="45%" stop-color="#eaeff3"/>
<stop offset="47.5%" stop-color="#f4f7f9"/>
<stop offset="50%" stop-color="#ffffff"/>
<stop offset="52.5%" stop-color="#fff6f2"/>
<stop offset="55%" stop-color="#ffede6"/>
<stop offset="57.5%" stop-color="#ffe3d9"/>
<stop offset="60%" stop-color="#ffdacd"/>
<stop offset="62.5%" stop-color="#ffd1c1"/>
<stop offset="65%" stop-color="#ffc7b4"/>
<stop offset="67.5%" stop-color="#ffbea8"/>
<stop offset="70%" stop-color="#ffb49c"/>
<stop offset="72.5%" stop-color="#ffab91"/>
<stop offset="75%" stop-color="#ffa185"/>
<stop offset="77.5%" stop-color="#ff9779"/>
<stop offset="80%" stop-color="#ff8d6e"/>
<stop offset="82.5%" stop-color="#ff8362"/>
<stop offset="85%" stop-color="#ff7857"/>
<stop offset="87.5%" stop-color="#ff6d4b"/>
<stop offset="90%" stop-color="#ff6140"/>
<stop offset="92.5%" stop-color="#ff5534"/>
<stop offset="95%" stop-color="#ff4629"/>
<stop offset="97.5%" stop-color="#ff361c"/>
<stop offset="100%" stop-color="#ff1e0c"/>
</linearGradient></defs>
<rect x="1326.1" y="249.3" width="31" height="150.9" fill="url(#ga)"/>
<path d="M1326.1 249.3h6.2M1350.9 249.3h6.2" stroke="#fff" stroke-width="1" stroke-opacity=".7"/>
<path d="M1326.1 268.16h6.2M1350.9 268.16h6.2" stroke="#fff" stroke-width="1" stroke-opacity=".7"/>
<path d="M1326.1 287.02h6.2M1350.9 287.02h6.2" stroke="#fff" stroke-width="1" stroke-opacity=".7"/>
<path d="M1326.1 305.89h6.2M1350.9 305.89h6.2" stroke="#fff" stroke-width="1" stroke-opacity=".7"/>
<path d="M1326.1 343.61h6.2M1350.9 343.61h6.2" stroke="#fff" stroke-width="1" stroke-opacity=".7"/>
<path d="M1326.1 362.48h6.2M1350.9 362.48h6.2" stroke="#fff" stroke-width="1" stroke-opacity=".7"/>
<path d="M1326.1 381.34h6.2M1350.9 381.34h6.2" stroke="#fff" stroke-width="1" stroke-opacity=".7"/>
<path d="M1326.1 400.2h6.2M1350.9 400.2h6.2" stroke="#fff" stroke-width="1" stroke-opacity=".7"/>
<text x="1367" y="255" font-size="15.58" fill="#000" stroke="#000" stroke-width="0.12">100−Variant Freq.</text>
<text x="1367" y="293" font-size="15.58" fill="#000" stroke="#000" stroke-width="0.12">50</text>
<text x="1367" y="322" font-size="15.58" fill="#000" stroke="#000" stroke-width="0.12">1−Variant Freq.</text>
<text x="1367" y="339" font-size="15.58" fill="#000" stroke="#000" stroke-width="0.12">0−Paralysis</text>
<text x="1367" y="368" font-size="15.58" fill="#000" stroke="#000" stroke-width="0.12">50</text>
<text x="1367" y="406" font-size="15.58" fill="#000" stroke="#000" stroke-width="0.12">100−Paralysis</text>
<rect x="1329.5" y="469.9" width="24" height="24" fill="#c9c9c9"/>
<text x="1367" y="488" font-size="15.58" fill="#000" stroke="#000" stroke-width="0.12">No Data</text>
<text x="0.6" y="915" font-size="50.5" fill="#000" style="font-family:'Liberation Serif', 'Times New Roman', serif" stroke="#000" stroke-width="0.12">b</text>
<text x="129.5" y="934.1" font-size="22.74" fill="#000" stroke="#000" stroke-width="0.12">M4 nOPV2 − Candidate 1 − IPV−only Background</text>
<rect x="130.05" y="949.5" width="46.2" height="325.8" fill="#fff"/>
<line x1="130.05" x2="176.25" y1="969.5" y2="969.5" stroke="#e6e6e6" stroke-width="1"/>
<line x1="130.05" x2="176.25" y1="1010.5" y2="1010.5" stroke="#e6e6e6" stroke-width="1"/>
<line x1="130.05" x2="176.25" y1="1051.5" y2="1051.5" stroke="#e6e6e6" stroke-width="1"/>
<line x1="130.05" x2="176.25" y1="1091.5" y2="1091.5" stroke="#e6e6e6" stroke-width="1"/>
<line x1="130.05" x2="176.25" y1="1132.5" y2="1132.5" stroke="#e6e6e6" stroke-width="1"/>
<line x1="130.05" x2="176.25" y1="1173.5" y2="1173.5" stroke="#e6e6e6" stroke-width="1"/>
<line x1="130.05" x2="176.25" y1="1214.5" y2="1214.5" stroke="#e6e6e6" stroke-width="1"/>
<line x1="130.05" x2="176.25" y1="1254.5" y2="1254.5" stroke="#e6e6e6" stroke-width="1"/>
<line x1="130.05" x2="176.25" y1="989.5" y2="989.5" stroke="#e8e8e8" stroke-width="1"/>
<line x1="130.05" x2="176.25" y1="1030.5" y2="1030.5" stroke="#e8e8e8" stroke-width="1"/>
<line x1="130.05" x2="176.25" y1="1071.5" y2="1071.5" stroke="#e8e8e8" stroke-width="1"/>
<line x1="130.05" x2="176.25" y1="1112.5" y2="1112.5" stroke="#e8e8e8" stroke-width="1"/>
<line x1="130.05" x2="176.25" y1="1153.5" y2="1153.5" stroke="#e8e8e8" stroke-width="1"/>
<line x1="130.05" x2="176.25" y1="1193.5" y2="1193.5" stroke="#e8e8e8" stroke-width="1"/>
<line x1="130.05" x2="176.25" y1="1234.5" y2="1234.5" stroke="#e8e8e8" stroke-width="1"/>
<rect x="133.3" y="949.2" width="39.5" height="326.1" fill="#fff"/>
<rect x="133.3" y="989.96" width="39.5" height="40.76" fill="#bebebe"/>
<rect x="133.3" y="1071.49" width="39.5" height="40.76" fill="#bebebe"/>
<rect x="133.3" y="1112.25" width="39.5" height="40.76" fill="#bebebe"/>
<rect x="133.3" y="1193.78" width="39.5" height="40.76" fill="#bebebe"/>
<rect x="133.3" y="1234.54" width="39.5" height="40.76" fill="#ffece5"/>
<path d="M133.5 949.2V1275.3M172.5 949.2V1275.3M133.3 989.5H172.8M133.3 1030.5H172.8M133.3 1071.5H172.8M133.3 1112.5H172.8M133.3 1153.5H172.8M133.3 1193.5H172.8M133.3 1234.5H172.8" fill="none" stroke="#999999" stroke-width="1" stroke-opacity="0.5"/>
<text x="153.05" y="977.05" font-size="18.9" fill="#c8c8c8" text-anchor="middle" stroke="#c8c8c8" stroke-width="0.12">0</text>
<text x="153.05" y="1058.57" font-size="18.9" fill="#c8c8c8" text-anchor="middle" stroke="#c8c8c8" stroke-width="0.12">0</text>
<text x="153.05" y="1180.86" font-size="18.9" fill="#c8c8c8" text-anchor="middle" stroke="#c8c8c8" stroke-width="0.12">0</text>
<text x="153.05" y="1262.38" font-size="18.9" fill="#808080" text-anchor="middle" stroke="#808080" stroke-width="0.12">10</text>
<rect x="130.05" y="1275.3" width="46.2" height="30.2" fill="#d9d9d9" stroke="#333333" stroke-width="1.1"/>
<text x="153.15" y="1296.85" font-size="15.5" fill="#1a1a1a" text-anchor="middle" stroke="#1a1a1a" stroke-width="0.12">%</text>
<rect x="130.05" y="949.5" width="46.2" height="325.8" fill="none" stroke="#333333" stroke-width="1.1"/>
<line x1="130.05" x2="176.25" y1="949.5" y2="949.5" stroke="#333" stroke-opacity=".45" stroke-width="1.1"/>
<line x1="129.5" x2="176.8" y1="1275.8" y2="1275.8" stroke="#262626" stroke-width="1.6"/>
<line x1="153.05" x2="153.05" y1="1305.5" y2="1311.2" stroke="#262626" stroke-width="1.9"/>
<text transform="translate(161.55 1322.7) rotate(-45)" font-size="15.78" fill="#4d4d4d" text-anchor="end" stroke="#4d4d4d" stroke-width="0.12">Paralysis Rate</text>
<line x1="124.3" x2="129.8" y1="969.58" y2="969.58" stroke="#262626" stroke-width="1.9"/>
<text x="120.9" y="975.23" font-size="15.78" fill="#4d4d4d" text-anchor="end" stroke="#4d4d4d" stroke-width="0.12">Day 3 (SSI)</text>
<line x1="124.3" x2="129.8" y1="1010.34" y2="1010.34" stroke="#262626" stroke-width="1.9"/>
<text x="120.9" y="1015.99" font-size="15.78" fill="#4d4d4d" text-anchor="end" stroke="#4d4d4d" stroke-width="0.12">Day 6 (SI)</text>
<line x1="124.3" x2="129.8" y1="1051.11" y2="1051.11" stroke="#262626" stroke-width="1.9"/>
<text x="120.9" y="1056.76" font-size="15.78" fill="#4d4d4d" text-anchor="end" stroke="#4d4d4d" stroke-width="0.12">Day 8 (SSI)</text>
<line x1="124.3" x2="129.8" y1="1091.87" y2="1091.87" stroke="#262626" stroke-width="1.9"/>
<text x="120.9" y="1097.52" font-size="15.78" fill="#4d4d4d" text-anchor="end" stroke="#4d4d4d" stroke-width="0.12">Day 8 (I)</text>
<line x1="124.3" x2="129.8" y1="1132.63" y2="1132.63" stroke="#262626" stroke-width="1.9"/>
<text x="120.9" y="1138.28" font-size="15.78" fill="#4d4d4d" text-anchor="end" stroke="#4d4d4d" stroke-width="0.12">Day 9 (SSI)</text>
<line x1="124.3" x2="129.8" y1="1173.39" y2="1173.39" stroke="#262626" stroke-width="1.9"/>
<text x="120.9" y="1179.04" font-size="15.78" fill="#4d4d4d" text-anchor="end" stroke="#4d4d4d" stroke-width="0.12">Day 9 (SI)</text>
<line x1="124.3" x2="129.8" y1="1214.16" y2="1214.16" stroke="#262626" stroke-width="1.9"/>
<text x="120.9" y="1219.81" font-size="15.78" fill="#4d4d4d" text-anchor="end" stroke="#4d4d4d" stroke-width="0.12">Day 21 (SI)</text>
<line x1="124.3" x2="129.8" y1="1254.92" y2="1254.92" stroke="#262626" stroke-width="1.9"/>
<text x="120.9" y="1260.57" font-size="15.78" fill="#4d4d4d" text-anchor="end" stroke="#4d4d4d" stroke-width="0.12">Day 21 (SSI)</text>
<rect x="186.8" y="949.5" width="361.9" height="325.8" fill="#fff"/>
<line x1="186.8" x2="548.7" y1="969.5" y2="969.5" stroke="#e6e6e6" stroke-width="1"/>
<line x1="186.8" x2="548.7" y1="1010.5" y2="1010.5" stroke="#e6e6e6" stroke-width="1"/>
<line x1="186.8" x2="548.7" y1="1051.5" y2="1051.5" stroke="#e6e6e6" stroke-width="1"/>
<line x1="186.8" x2="548.7" y1="1091.5" y2="1091.5" stroke="#e6e6e6" stroke-width="1"/>
<line x1="186.8" x2="548.7" y1="1132.5" y2="1132.5" stroke="#e6e6e6" stroke-width="1"/>
<line x1="186.8" x2="548.7" y1="1173.5" y2="1173.5" stroke="#e6e6e6" stroke-width="1"/>
<line x1="186.8" x2="548.7" y1="1214.5" y2="1214.5" stroke="#e6e6e6" stroke-width="1"/>
<line x1="186.8" x2="548.7" y1="1254.5" y2="1254.5" stroke="#e6e6e6" stroke-width="1"/>
<line x1="186.8" x2="548.7" y1="989.5" y2="989.5" stroke="#e8e8e8" stroke-width="1"/>
<line x1="186.8" x2="548.7" y1="1030.5" y2="1030.5" stroke="#e8e8e8" stroke-width="1"/>
<line x1="186.8" x2="548.7" y1="1071.5" y2="1071.5" stroke="#e8e8e8" stroke-width="1"/>
<line x1="186.8" x2="548.7" y1="1112.5" y2="1112.5" stroke="#e8e8e8" stroke-width="1"/>
<line x1="186.8" x2="548.7" y1="1153.5" y2="1153.5" stroke="#e8e8e8" stroke-width="1"/>
<line x1="186.8" x2="548.7" y1="1193.5" y2="1193.5" stroke="#e8e8e8" stroke-width="1"/>
<line x1="186.8" x2="548.7" y1="1234.5" y2="1234.5" stroke="#e8e8e8" stroke-width="1"/>
<rect x="190.3" y="949.2" width="355.05" height="326.1" fill="#fff"/>
<rect x="466.45" y="949.2" width="39.45" height="40.76" fill="#fbfcfd"/>
<rect x="229.75" y="1030.72" width="39.45" height="40.76" fill="#00688b"/>
<rect x="348.1" y="1071.49" width="39.45" height="40.76" fill="#f8fafb"/>
<rect x="190.3" y="1112.25" width="39.45" height="40.76" fill="#99b5c7"/>
<rect x="229.75" y="1112.25" width="39.45" height="40.76" fill="#f0f4f7"/>
<rect x="269.2" y="1112.25" width="39.45" height="40.76" fill="#ebf0f4"/>
<rect x="229.75" y="1153.01" width="39.45" height="40.76" fill="#f8fafb"/>
<rect x="229.75" y="1193.78" width="39.45" height="40.76" fill="#aac1d1"/>
<rect x="269.2" y="1193.78" width="39.45" height="40.76" fill="#759db5"/>
<rect x="427" y="1193.78" width="39.45" height="40.76" fill="#aac1d1"/>
<rect x="190.3" y="1234.54" width="39.45" height="40.76" fill="#90afc3"/>
<rect x="229.75" y="1234.54" width="39.45" height="40.76" fill="#f8fafb"/>
<rect x="348.1" y="1234.54" width="39.45" height="40.76" fill="#87a9be"/>
<rect x="387.55" y="1234.54" width="39.45" height="40.76" fill="#f8fafb"/>
<rect x="427" y="1234.54" width="39.45" height="40.76" fill="#edf2f5"/>
<path d="M190.5 949.2V1275.3M229.5 949.2V1275.3M269.5 949.2V1275.3M308.5 949.2V1275.3M348.5 949.2V1275.3M387.5 949.2V1275.3M427.5 949.2V1275.3M466.5 949.2V1275.3M505.5 949.2V1275.3M545.5 949.2V1275.3M190.3 989.5H545.35M190.3 1030.5H545.35M190.3 1071.5H545.35M190.3 1112.5H545.35M190.3 1153.5H545.35M190.3 1193.5H545.35M190.3 1234.5H545.35" fill="none" stroke="#999999" stroke-width="1" stroke-opacity="0.5"/>
<line x1="269.2" x2="269.2" y1="949.2" y2="1275.3" stroke="#666666" stroke-width="3.6"/>
<line x1="308.65" x2="308.65" y1="949.2" y2="1275.3" stroke="#666666" stroke-width="3.6"/>
<line x1="348.1" x2="348.1" y1="949.2" y2="1275.3" stroke="#666666" stroke-width="3.6"/>
<line x1="466.45" x2="466.45" y1="949.2" y2="1275.3" stroke="#666666" stroke-width="3.6"/>
<rect x="186.8" y="1275.3" width="361.9" height="30.2" fill="#d9d9d9" stroke="#333333" stroke-width="1.1"/>
<text x="367.75" y="1296.15" font-size="15.5" fill="#1a1a1a" text-anchor="middle" stroke="#1a1a1a" stroke-width="0.12">Isolate</text>
<rect x="186.8" y="949.5" width="361.9" height="325.8" fill="none" stroke="#333333" stroke-width="1.1"/>
<line x1="186.8" x2="548.7" y1="949.5" y2="949.5" stroke="#333" stroke-opacity=".45" stroke-width="1.1"/>
<line x1="186.25" x2="549.25" y1="1275.8" y2="1275.8" stroke="#262626" stroke-width="1.6"/>
<line x1="210.03" x2="210.03" y1="1305.5" y2="1311.2" stroke="#262626" stroke-width="1.9"/>
<text transform="translate(218.53 1322.7) rotate(-45)" font-size="15.78" fill="#4d4d4d" text-anchor="end" stroke="#4d4d4d" stroke-width="0.12">CRE5:123(T−&gt;C)</text>
<line x1="249.48" x2="249.48" y1="1305.5" y2="1311.2" stroke="#262626" stroke-width="1.9"/>
<text transform="translate(257.98 1322.7) rotate(-45)" font-size="15.78" fill="#4d4d4d" text-anchor="end" stroke="#4d4d4d" stroke-width="0.12">CRE5:179(G−&gt;A)</text>
<line x1="288.93" x2="288.93" y1="1305.5" y2="1311.2" stroke="#262626" stroke-width="1.9"/>
<text transform="translate(297.43 1322.7) rotate(-45)" font-size="15.78" fill="#4d4d4d" text-anchor="end" stroke="#4d4d4d" stroke-width="0.12">DomIV:459(T−&gt;C)</text>
<line x1="328.38" x2="328.38" y1="1305.5" y2="1311.2" stroke="#262626" stroke-width="1.9"/>
<text transform="translate(336.88 1322.7) rotate(-45)" font-size="15.78" fill="#4d4d4d" text-anchor="end" stroke="#4d4d4d" stroke-width="0.12">S15 DomV:547(C−&gt;T)</text>
<line x1="367.83" x2="367.83" y1="1305.5" y2="1311.2" stroke="#262626" stroke-width="1.9"/>
<text transform="translate(376.33 1322.7) rotate(-45)" font-size="15.78" fill="#4d4d4d" text-anchor="end" stroke="#4d4d4d" stroke-width="0.12">VP1−143:2969(A−&gt;G):VP1:p.143I&gt;V</text>
<line x1="407.28" x2="407.28" y1="1305.5" y2="1311.2" stroke="#262626" stroke-width="1.9"/>
<text transform="translate(415.78 1322.7) rotate(-45)" font-size="15.78" fill="#4d4d4d" text-anchor="end" stroke="#4d4d4d" stroke-width="0.12">VP1−143:2970(T−&gt;G):VP1:p.143I&gt;S</text>
<line x1="446.73" x2="446.73" y1="1305.5" y2="1311.2" stroke="#262626" stroke-width="1.9"/>
<text transform="translate(455.23 1322.7) rotate(-45)" font-size="15.78" fill="#4d4d4d" text-anchor="end" stroke="#4d4d4d" stroke-width="0.12">VP1−143:2970(T−&gt;C):VP1:p.143I&gt;T</text>
<line x1="486.18" x2="486.18" y1="1305.5" y2="1311.2" stroke="#262626" stroke-width="1.9"/>
<text transform="translate(494.68 1322.7) rotate(-45)" font-size="15.78" fill="#4d4d4d" text-anchor="end" stroke="#4d4d4d" stroke-width="0.12">2C cre KO:4519(C−&gt;T)</text>
<line x1="525.62" x2="525.62" y1="1305.5" y2="1311.2" stroke="#262626" stroke-width="1.9"/>
<text transform="translate(534.12 1322.7) rotate(-45)" font-size="15.78" fill="#4d4d4d" text-anchor="end" stroke="#4d4d4d" stroke-width="0.12">2C cre KO:4540(T−&gt;C)</text>
<rect x="559.5" y="949.5" width="361.9" height="325.8" fill="#fff"/>
<line x1="559.5" x2="921.4" y1="969.5" y2="969.5" stroke="#e6e6e6" stroke-width="1"/>
<line x1="559.5" x2="921.4" y1="1010.5" y2="1010.5" stroke="#e6e6e6" stroke-width="1"/>
<line x1="559.5" x2="921.4" y1="1051.5" y2="1051.5" stroke="#e6e6e6" stroke-width="1"/>
<line x1="559.5" x2="921.4" y1="1091.5" y2="1091.5" stroke="#e6e6e6" stroke-width="1"/>
<line x1="559.5" x2="921.4" y1="1132.5" y2="1132.5" stroke="#e6e6e6" stroke-width="1"/>
<line x1="559.5" x2="921.4" y1="1173.5" y2="1173.5" stroke="#e6e6e6" stroke-width="1"/>
<line x1="559.5" x2="921.4" y1="1214.5" y2="1214.5" stroke="#e6e6e6" stroke-width="1"/>
<line x1="559.5" x2="921.4" y1="1254.5" y2="1254.5" stroke="#e6e6e6" stroke-width="1"/>
<line x1="559.5" x2="921.4" y1="989.5" y2="989.5" stroke="#e8e8e8" stroke-width="1"/>
<line x1="559.5" x2="921.4" y1="1030.5" y2="1030.5" stroke="#e8e8e8" stroke-width="1"/>
<line x1="559.5" x2="921.4" y1="1071.5" y2="1071.5" stroke="#e8e8e8" stroke-width="1"/>
<line x1="559.5" x2="921.4" y1="1112.5" y2="1112.5" stroke="#e8e8e8" stroke-width="1"/>
<line x1="559.5" x2="921.4" y1="1153.5" y2="1153.5" stroke="#e8e8e8" stroke-width="1"/>
<line x1="559.5" x2="921.4" y1="1193.5" y2="1193.5" stroke="#e8e8e8" stroke-width="1"/>
<line x1="559.5" x2="921.4" y1="1234.5" y2="1234.5" stroke="#e8e8e8" stroke-width="1"/>
<rect x="562.9" y="949.2" width="355.05" height="326.1" fill="#fff"/>
<rect x="839.05" y="949.2" width="39.45" height="40.76" fill="#fdfdfe"/>
<rect x="602.35" y="1030.72" width="39.45" height="40.76" fill="#116b8d"/>
<rect x="562.9" y="1071.49" width="39.45" height="40.76" fill="#bebebe"/>
<rect x="602.35" y="1071.49" width="39.45" height="40.76" fill="#bebebe"/>
<rect x="641.8" y="1071.49" width="39.45" height="40.76" fill="#bebebe"/>
<rect x="681.25" y="1071.49" width="39.45" height="40.76" fill="#bebebe"/>
<rect x="720.7" y="1071.49" width="39.45" height="40.76" fill="#bebebe"/>
<rect x="760.15" y="1071.49" width="39.45" height="40.76" fill="#bebebe"/>
<rect x="799.6" y="1071.49" width="39.45" height="40.76" fill="#bebebe"/>
<rect x="839.05" y="1071.49" width="39.45" height="40.76" fill="#bebebe"/>
<rect x="878.5" y="1071.49" width="39.45" height="40.76" fill="#bebebe"/>
<rect x="562.9" y="1112.25" width="39.45" height="40.76" fill="#e5ecf1"/>
<rect x="602.35" y="1112.25" width="39.45" height="40.76" fill="#f4f7f9"/>
<rect x="641.8" y="1112.25" width="39.45" height="40.76" fill="#fbfcfd"/>
<rect x="602.35" y="1193.78" width="39.45" height="40.76" fill="#edf2f5"/>
<rect x="641.8" y="1193.78" width="39.45" height="40.76" fill="#2f7595"/>
<rect x="799.6" y="1193.78" width="39.45" height="40.76" fill="#e9eff3"/>
<rect x="562.9" y="1234.54" width="39.45" height="40.76" fill="#206f91"/>
<rect x="720.7" y="1234.54" width="39.45" height="40.76" fill="#90afc3"/>
<rect x="760.15" y="1234.54" width="39.45" height="40.76" fill="#e9eff3"/>
<rect x="799.6" y="1234.54" width="39.45" height="40.76" fill="#f8fafb"/>
<path d="M562.5 949.2V1275.3M602.5 949.2V1275.3M641.5 949.2V1275.3M681.5 949.2V1275.3M720.5 949.2V1275.3M760.5 949.2V1275.3M799.5 949.2V1275.3M839.5 949.2V1275.3M878.5 949.2V1275.3M917.5 949.2V1275.3M562.9 989.5H917.95M562.9 1030.5H917.95M562.9 1071.5H917.95M562.9 1112.5H917.95M562.9 1153.5H917.95M562.9 1193.5H917.95M562.9 1234.5H917.95" fill="none" stroke="#999999" stroke-width="1" stroke-opacity="0.5"/>
<line x1="641.8" x2="641.8" y1="949.2" y2="1275.3" stroke="#666666" stroke-width="3.6"/>
<line x1="681.25" x2="681.25" y1="949.2" y2="1275.3" stroke="#666666" stroke-width="3.6"/>
<line x1="720.7" x2="720.7" y1="949.2" y2="1275.3" stroke="#666666" stroke-width="3.6"/>
<line x1="839.05" x2="839.05" y1="949.2" y2="1275.3" stroke="#666666" stroke-width="3.6"/>
<rect x="559.5" y="1275.3" width="361.9" height="30.2" fill="#d9d9d9" stroke="#333333" stroke-width="1.1"/>
<text x="740.45" y="1296.15" font-size="15.5" fill="#1a1a1a" text-anchor="middle" stroke="#1a1a1a" stroke-width="0.12">Mean Stool</text>
<rect x="559.5" y="949.5" width="361.9" height="325.8" fill="none" stroke="#333333" stroke-width="1.1"/>
<line x1="559.5" x2="921.4" y1="949.5" y2="949.5" stroke="#333" stroke-opacity=".45" stroke-width="1.1"/>
<line x1="558.95" x2="921.95" y1="1275.8" y2="1275.8" stroke="#262626" stroke-width="1.6"/>
<line x1="582.62" x2="582.62" y1="1305.5" y2="1311.2" stroke="#262626" stroke-width="1.9"/>
<text transform="translate(591.12 1322.7) rotate(-45)" font-size="15.78" fill="#4d4d4d" text-anchor="end" stroke="#4d4d4d" stroke-width="0.12">CRE5:123(T−&gt;C)</text>
<line x1="622.08" x2="622.08" y1="1305.5" y2="1311.2" stroke="#262626" stroke-width="1.9"/>
<text transform="translate(630.58 1322.7) rotate(-45)" font-size="15.78" fill="#4d4d4d" text-anchor="end" stroke="#4d4d4d" stroke-width="0.12">CRE5:179(G−&gt;A)</text>
<line x1="661.52" x2="661.52" y1="1305.5" y2="1311.2" stroke="#262626" stroke-width="1.9"/>
<text transform="translate(670.02 1322.7) rotate(-45)" font-size="15.78" fill="#4d4d4d" text-anchor="end" stroke="#4d4d4d" stroke-width="0.12">DomIV:459(T−&gt;C)</text>
<line x1="700.98" x2="700.98" y1="1305.5" y2="1311.2" stroke="#262626" stroke-width="1.9"/>
<text transform="translate(709.48 1322.7) rotate(-45)" font-size="15.78" fill="#4d4d4d" text-anchor="end" stroke="#4d4d4d" stroke-width="0.12">S15 DomV:547(C−&gt;T)</text>
<line x1="740.42" x2="740.42" y1="1305.5" y2="1311.2" stroke="#262626" stroke-width="1.9"/>
<text transform="translate(748.92 1322.7) rotate(-45)" font-size="15.78" fill="#4d4d4d" text-anchor="end" stroke="#4d4d4d" stroke-width="0.12">VP1−143:2969(A−&gt;G):VP1:p.143I&gt;V</text>
<line x1="779.88" x2="779.88" y1="1305.5" y2="1311.2" stroke="#262626" stroke-width="1.9"/>
<text transform="translate(788.38 1322.7) rotate(-45)" font-size="15.78" fill="#4d4d4d" text-anchor="end" stroke="#4d4d4d" stroke-width="0.12">VP1−143:2970(T−&gt;G):VP1:p.143I&gt;S</text>
<line x1="819.33" x2="819.33" y1="1305.5" y2="1311.2" stroke="#262626" stroke-width="1.9"/>
<text transform="translate(827.83 1322.7) rotate(-45)" font-size="15.78" fill="#4d4d4d" text-anchor="end" stroke="#4d4d4d" stroke-width="0.12">VP1−143:2970(T−&gt;C):VP1:p.143I&gt;T</text>
<line x1="858.78" x2="858.78" y1="1305.5" y2="1311.2" stroke="#262626" stroke-width="1.9"/>
<text transform="translate(867.28 1322.7) rotate(-45)" font-size="15.78" fill="#4d4d4d" text-anchor="end" stroke="#4d4d4d" stroke-width="0.12">2C cre KO:4519(C−&gt;T)</text>
<line x1="898.23" x2="898.23" y1="1305.5" y2="1311.2" stroke="#262626" stroke-width="1.9"/>
<text transform="translate(906.73 1322.7) rotate(-45)" font-size="15.78" fill="#4d4d4d" text-anchor="end" stroke="#4d4d4d" stroke-width="0.12">2C cre KO:4540(T−&gt;C)</text>
<text transform="translate(22.1 1113.15) rotate(-90)" font-size="19.15" fill="#000" text-anchor="middle" stroke="#000" stroke-width="0.12">EES Day (Sample Types)</text>
<defs><linearGradient id="gb" x1="0" y1="0" x2="0" y2="1">
<stop offset="0%" stop-color="#176c8e"/>
<stop offset="2.5%" stop-color="#2b7394"/>
<stop offset="5%" stop-color="#3a7a99"/>
<stop offset="7.5%" stop-color="#47819f"/>
<stop offset="10%" stop-color="#5488a4"/>
<stop offset="12.5%" stop-color="#5f8faa"/>
<stop offset="15%" stop-color="#6a96af"/>
<stop offset="17.5%" stop-color="#759db5"/>
<stop offset="20%" stop-color="#80a4ba"/>
<stop offset="22.5%" stop-color="#8babc0"/>
<stop offset="25%" stop-color="#95b3c5"/>
<stop offset="27.5%" stop-color="#a0bacb"/>
<stop offset="30%" stop-color="#aac2d1"/>
<stop offset="32.5%" stop-color="#b5c9d6"/>
<stop offset="35%" stop-color="#bfd1dc"/>
<stop offset="37.5%" stop-color="#cad8e2"/>
<stop offset="40%" stop-color="#d4e0e8"/>
<stop offset="42.5%" stop-color="#dfe8ee"/>
<stop offset="45%" stop-color="#eaeff3"/>
<stop offset="47.5%" stop-color="#f4f7f9"/>
<stop offset="50%" stop-color="#ffffff"/>
<stop offset="52.5%" stop-color="#fff6f2"/>
<stop offset="55%" stop-color="#ffede6"/>
<stop offset="57.5%" stop-color="#ffe3d9"/>
<stop offset="60%" stop-color="#ffdacd"/>
<stop offset="62.5%" stop-color="#ffd1c1"/>
<stop offset="65%" stop-color="#ffc7b4"/>
<stop offset="67.5%" stop-color="#ffbea8"/>
<stop offset="70%" stop-color="#ffb49c"/>
<stop offset="72.5%" stop-color="#ffab91"/>
<stop offset="75%" stop-color="#ffa185"/>
<stop offset="77.5%" stop-color="#ff9779"/>
<stop offset="80%" stop-color="#ff8d6e"/>
<stop offset="82.5%" stop-color="#ff8362"/>
<stop offset="85%" stop-color="#ff7857"/>
<stop offset="87.5%" stop-color="#ff6d4b"/>
<stop offset="90%" stop-color="#ff6140"/>
<stop offset="92.5%" stop-color="#ff5534"/>
<stop offset="95%" stop-color="#ff4629"/>
<stop offset="97.5%" stop-color="#ff361c"/>
<stop offset="100%" stop-color="#ff1e0c"/>
</linearGradient></defs>
<rect x="950.1" y="1002.3" width="30.8" height="150.9" fill="url(#gb)"/>
<path d="M950.1 1002.3h6.16M974.74 1002.3h6.16" stroke="#fff" stroke-width="1" stroke-opacity=".7"/>
<path d="M950.1 1021.16h6.16M974.74 1021.16h6.16" stroke="#fff" stroke-width="1" stroke-opacity=".7"/>
<path d="M950.1 1040.03h6.16M974.74 1040.03h6.16" stroke="#fff" stroke-width="1" stroke-opacity=".7"/>
<path d="M950.1 1058.89h6.16M974.74 1058.89h6.16" stroke="#fff" stroke-width="1" stroke-opacity=".7"/>
<path d="M950.1 1096.61h6.16M974.74 1096.61h6.16" stroke="#fff" stroke-width="1" stroke-opacity=".7"/>
<path d="M950.1 1115.47h6.16M974.74 1115.47h6.16" stroke="#fff" stroke-width="1" stroke-opacity=".7"/>
<path d="M950.1 1134.34h6.16M974.74 1134.34h6.16" stroke="#fff" stroke-width="1" stroke-opacity=".7"/>
<path d="M950.1 1153.2h6.16M974.74 1153.2h6.16" stroke="#fff" stroke-width="1" stroke-opacity=".7"/>
<text x="990.9" y="1008" font-size="15.58" fill="#000" stroke="#000" stroke-width="0.12">100−Variant Freq.</text>
<text x="990.9" y="1046" font-size="15.58" fill="#000" stroke="#000" stroke-width="0.12">50</text>
<text x="990.9" y="1075" font-size="15.58" fill="#000" stroke="#000" stroke-width="0.12">1−Variant Freq.</text>
<text x="990.9" y="1092" font-size="15.58" fill="#000" stroke="#000" stroke-width="0.12">0−Paralysis</text>
<text x="990.9" y="1121" font-size="15.58" fill="#000" stroke="#000" stroke-width="0.12">50</text>
<text x="990.9" y="1159" font-size="15.58" fill="#000" stroke="#000" stroke-width="0.12">100−Paralysis</text>
<rect x="953.9" y="1223.1" width="24" height="24" fill="#c9c9c9"/>
<text x="990.9" y="1241" font-size="15.58" fill="#000" stroke="#000" stroke-width="0.12">No Data</text>
</svg></body></html>
